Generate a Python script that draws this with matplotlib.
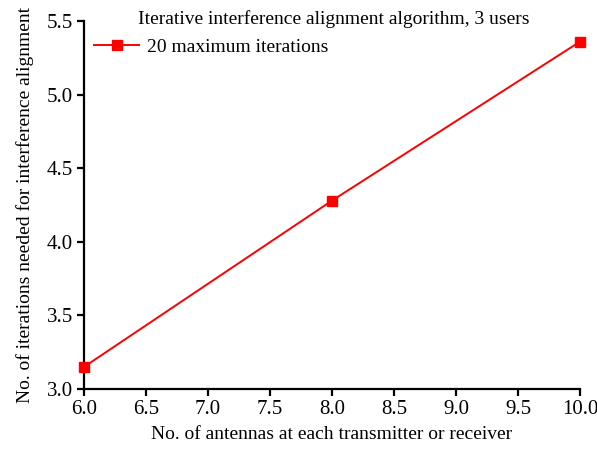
import matplotlib
matplotlib.use("Agg")
import matplotlib.pyplot as plt

plt.rcParams['font.family'] = ['Liberation Serif', 'DejaVu Serif']
plt.rcParams['font.size'] = 14

# data
antennas = [6, 8, 10]
iterations = [3.15, 4.28, 5.36]

fig = plt.figure(figsize=(5.97, 4.51), dpi=100)
ax = fig.add_axes([0.1407, 0.1375, 0.831, 0.816])

ax.plot(antennas, iterations, color='#ff0000', lw=1.4, marker='s',
        markersize=7, label='20 maximum iterations', clip_on=False, zorder=5)

ax.set_xlim(6, 10)
ax.set_ylim(3.0, 5.5)
ax.set_xticks([6.0, 6.5, 7.0, 7.5, 8.0, 8.5, 9.0, 9.5, 10.0])
ax.set_yticks([3.0, 3.5, 4.0, 4.5, 5.0, 5.5])
ax.xaxis.set_major_formatter(matplotlib.ticker.FormatStrFormatter('%.1f'))
ax.yaxis.set_major_formatter(matplotlib.ticker.FormatStrFormatter('%.1f'))

for s in ['top', 'right']:
    ax.spines[s].set_visible(False)
for s in ['left', 'bottom']:
    ax.spines[s].set_linewidth(1.6)
ax.tick_params(direction='out', width=1.6, length=5, labelsize=15, pad=3)

ax.set_xlabel('No. of antennas at each transmitter or receiver', fontsize=14,
              labelpad=5)
ax.set_ylabel('No. of iterations needed for interference alignment',
              fontsize=14, labelpad=9)

ax.text(0.503, 1.005, 'Iterative interference alignment algorithm, 3 users',
        transform=ax.transAxes, ha='center', va='center', fontsize=14)
ax.legend(loc='upper left', bbox_to_anchor=(0.005, 0.975), frameon=False,
          fontsize=14, handlelength=2.3, handletextpad=0.4, borderaxespad=0)

fig.savefig('out.png', dpi=100)
